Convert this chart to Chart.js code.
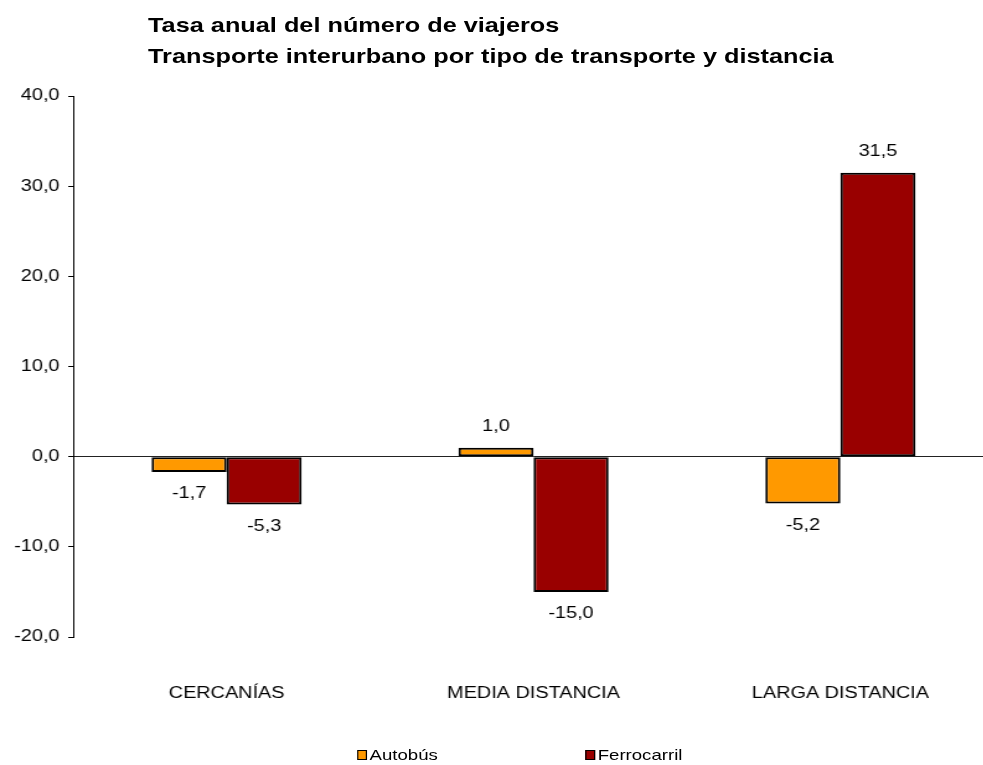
<!DOCTYPE html>
<html>
<head>
<meta charset="utf-8">
<script src="https://cdn.jsdelivr.net/npm/chart.js@4/dist/chart.umd.min.js"></script>
<style>
  html, body { margin: 0; padding: 0; background: #fff; }
  #wrap { position: relative; width: 983px; height: 765px; overflow: hidden; }
  /* the reference is stretched horizontally, so the whole stage is too */
  #stage { position: absolute; left: 0; top: 0; width: 806px; height: 765px; transform: scaleX(1.24); transform-origin: 0 0; font-family: 'Liberation Sans', Arial, sans-serif; }
  #title { position: absolute; left: 119.4px; top: 10px; font-weight: bold; font-size: 20.4px; line-height: 31px; color: #000; white-space: nowrap; }
  #legend { position: absolute; top: 745px; left: 0; width: 806px; font-size: 15px; color: #000; }
  .item { position: absolute; top: 0; line-height: 20px; white-space: nowrap; }
  .box { display: inline-block; width: 6px; height: 8px; border: 1px solid #000; margin-right: 2px; vertical-align: 0px; }
  canvas { position: absolute; left: 0; top: 0; }
</style>
</head>
<body>
<div id="wrap">
  <div id="stage">
    <canvas id="chart" width="806" height="765"></canvas>
    <div id="title">Tasa anual del número de viajeros<br>Transporte interurbano por tipo de transporte y distancia</div>
    <div id="legend"></div>
  </div>
</div>
<script>
const categories = ['CERCANÍAS', 'MEDIA DISTANCIA', 'LARGA DISTANCIA']
const autobus = [-1.7, 1.0, -5.2]
const ferrocarril = [-5.3, -15.0, 31.5]
const yTicks = [40, 30, 20, 10, 0, -10, -20]

const FONT = "'Liberation Sans', Arial, sans-serif"
const fmt = (v) => v.toFixed(1).replace('.', ',')

const series = [
  { label: 'Autobús', data: autobus, color: '#FF9900' },
  { label: 'Ferrocarril', data: ferrocarril, color: '#990000' }
]

// value labels at the end of each bar
const valueLabels = {
  id: 'valueLabels',
  afterDatasetsDraw (chart) {
    const ctx = chart.ctx
    ctx.save()
    ctx.font = `16px ${FONT}`
    ctx.fillStyle = '#000'
    ctx.textAlign = 'center'
    ctx.textBaseline = 'middle'
    chart.data.datasets.forEach((ds, i) => {
      chart.getDatasetMeta(i).data.forEach((bar, j) => {
        const v = ds.data[j]
        const y = v >= 0 ? bar.y - 21 : bar.y + 22
        ctx.fillText(fmt(v), bar.x, y)
      })
    })
    ctx.restore()
  }
}

new Chart(document.getElementById('chart'), {
  type: 'bar',
  data: {
    labels: categories,
    datasets: series.map(s => ({
      label: s.label,
      data: s.data,
      backgroundColor: s.color,
      borderColor: '#000',
      borderWidth: 2,
      borderSkipped: false,
      categoryPercentage: 0.489,
      barPercentage: 1.0
    }))
  },
  options: {
    responsive: false,
    animation: false,
    layout: { padding: { top: 96, right: 4.5, bottom: 0, left: 0 } },
    plugins: {
      legend: { display: false },
      title: { display: false },
      tooltip: { enabled: false }
    },
    scales: {
      x: {
        grid: { display: false, drawTicks: false },
        border: { display: false },
        ticks: { padding: 47, color: '#000', font: { family: FONT, size: 16 } },
        afterFit: (s) => { s.height = 128 }
      },
      y: {
        min: -20,
        max: 40,
        afterBuildTicks: (s) => { s.ticks = yTicks.map(v => ({ value: v })) },
        border: { display: true, color: '#000', width: 1 },
        grid: {
          color: (c) => c.tick && c.tick.value === 0 ? '#222' : 'rgba(0,0,0,0)',
          tickColor: '#000',
          tickLength: 4,
          lineWidth: 1
        },
        ticks: {
          padding: 7,
          color: '#000',
          font: { family: FONT, size: 16 },
          callback: (v) => fmt(v)
        },
        afterFit: (s) => { s.width = 59 }
      }
    }
  },
  plugins: [valueLabels]
})

// legend below the chart
const legendPos = [288, 472]
const legend = document.getElementById('legend')
series.forEach((s, i) => {
  const item = document.createElement('span')
  item.className = 'item'
  item.style.left = legendPos[i] + 'px'
  item.innerHTML = `<span class="box" style="background:${s.color}"></span>${s.label}`
  legend.appendChild(item)
})
</script>
</body>
</html>
